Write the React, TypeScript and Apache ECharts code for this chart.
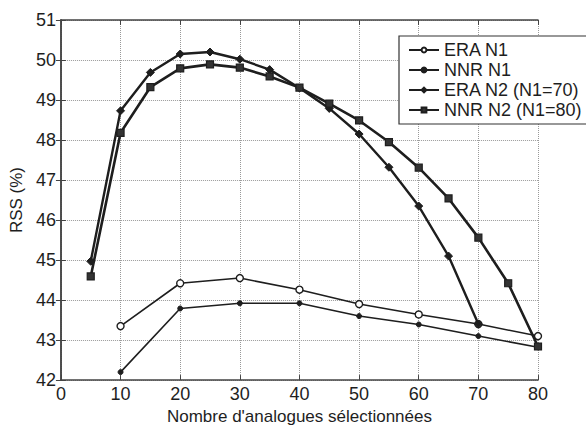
import React, { useEffect, useRef } from "react";
import * as echarts from "echarts";

const eraN1X = [10, 20, 30, 40, 50, 60, 70, 80];
const eraN1Y = [43.35, 44.42, 44.55, 44.26, 43.9, 43.64, 43.4, 43.1];

const nnrN1X = [10, 20, 30, 40, 50, 60, 70, 80];
const nnrN1Y = [42.2, 43.79, 43.92, 43.92, 43.6, 43.39, 43.1, 42.82];

const eraN2X = [5, 10, 15, 20, 25, 30, 35, 40, 45, 50, 55, 60, 65, 70];
const eraN2Y = [44.97, 48.73, 49.69, 50.15, 50.2, 50.02, 49.76, 49.3, 48.79, 48.15, 47.32, 46.35, 45.1, 43.4];

const nnrN2X = [5, 10, 15, 20, 25, 30, 35, 40, 45, 50, 55, 60, 65, 70, 75, 80];
const nnrN2Y = [44.59, 48.18, 49.32, 49.79, 49.89, 49.81, 49.59, 49.31, 48.91, 48.49, 47.95, 47.31, 46.54, 45.56, 44.42, 42.84];

const seriesNames = ["ERA N1", "NNR N1", "ERA N2 (N1=70)", "NNR N2 (N1=80)"];

const xAxisTitle = "Nombre d'analogues sélectionnées";
const yAxisTitle = "RSS (%)";

const pairs = (xs: number[], ys: number[]) => xs.map((x, i) => [x, ys[i]]);

export default function App() {
  const ref = useRef<HTMLDivElement>(null);
  useEffect(() => {
    const chart = echarts.init(ref.current!, null, { renderer: "svg" });
    const font = "'Liberation Sans', Arial, sans-serif";
    const ink = "#1e1e1e";
    const axisBase = {
      type: "value" as const,
      axisLine: { show: true, lineStyle: { color: "#444", width: 1.5 } },
      axisTick: { show: true, inside: true, length: 5, lineStyle: { color: "#444" } },
    };
    chart.setOption({
      animation: false,
      backgroundColor: "#fff",
      grid: { left: 57, right: 48, top: 20, bottom: 38, containLabel: false },
      xAxis: [
        {
          ...axisBase,
          min: 0,
          max: 80,
          interval: 10,
          position: "bottom",
          name: xAxisTitle,
          nameLocation: "middle",
          nameGap: 24,
          nameTextStyle: { fontFamily: font, fontSize: 17, color: ink },
          axisLabel: { fontFamily: font, fontSize: 18, color: ink, margin: 5 },
          splitLine: { show: true, lineStyle: { type: "dotted", color: "#999", width: 1 } },
        },
        {
          ...axisBase,
          min: 0,
          max: 80,
          interval: 10,
          position: "top",
          axisLabel: { show: false },
          splitLine: { show: false },
        },
      ],
      yAxis: [
        {
          ...axisBase,
          min: 42,
          max: 51,
          interval: 1,
          position: "left",
          name: yAxisTitle,
          nameLocation: "middle",
          nameGap: 29,
          nameTextStyle: { fontFamily: font, fontSize: 17, color: ink },
          axisLabel: { fontFamily: font, fontSize: 18, color: ink, margin: 5 },
          splitLine: { show: true, lineStyle: { type: "dotted", color: "#999", width: 1 } },
        },
        {
          ...axisBase,
          min: 42,
          max: 51,
          interval: 1,
          position: "right",
          axisLabel: { show: false },
          splitLine: { show: false },
        },
      ],
      legend: {
        orient: "vertical",
        left: 399,
        top: 36,
        backgroundColor: "#fff",
        borderColor: "#333",
        borderWidth: 1.2,
        borderRadius: 0,
        padding: [5, 10, 5, 9],
        itemGap: 2,
        itemWidth: 30,
        itemHeight: 6,
        itemTextGap: 10,
        textStyle: { fontFamily: font, fontSize: 18, color: ink, lineHeight: 18 },
        data: seriesNames,
      },
      series: [
        {
          name: seriesNames[0],
          type: "line",
          data: pairs(eraN1X, eraN1Y),
          symbol: "circle",
          symbolSize: 7,
          lineStyle: { color: ink, width: 1.6 },
          itemStyle: { color: "#fff", borderColor: ink, borderWidth: 1.4 },
          z: 3,
        },
        {
          name: seriesNames[1],
          type: "line",
          data: pairs(nnrN1X, nnrN1Y),
          symbol: "circle",
          symbolSize: 5,
          lineStyle: { color: ink, width: 1.6 },
          itemStyle: { color: ink, borderColor: ink, borderWidth: 1 },
          z: 3,
        },
        {
          name: seriesNames[2],
          type: "line",
          data: pairs(eraN2X, eraN2Y),
          symbol: "diamond",
          symbolSize: 8,
          lineStyle: { color: ink, width: 2.4 },
          itemStyle: { color: ink, borderColor: ink, borderWidth: 1 },
          z: 4,
        },
        {
          name: seriesNames[3],
          type: "line",
          data: pairs(nnrN2X, nnrN2Y),
          symbol: "rect",
          symbolSize: 7,
          lineStyle: { color: ink, width: 2.6 },
          itemStyle: { color: "#333", borderColor: ink, borderWidth: 1.2 },
          z: 4,
        },
      ],
    });
    return () => chart.dispose();
  }, []);
  return (
    <div
      ref={ref}
      style={{ position: "fixed", left: 0, top: 0, width: 586, height: 430, background: "#fff" }}
    />
  );
}
